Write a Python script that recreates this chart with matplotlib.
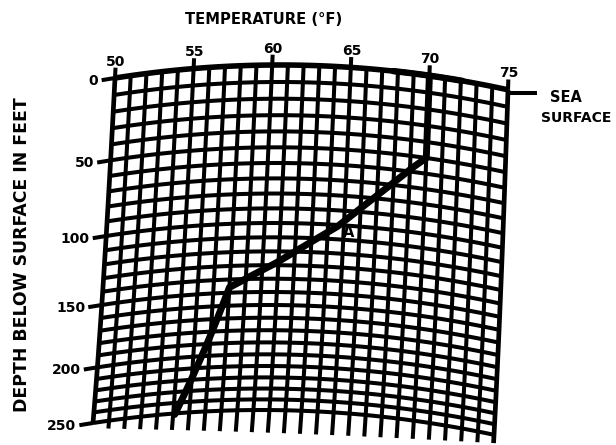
import numpy as np
import matplotlib
matplotlib.use('Agg')
import matplotlib.pyplot as plt
from matplotlib.path import Path
from matplotlib.transforms import Transform

### bathythermograph slide: temperature vs depth on a curved grid

temp_labels = [50, 55, 60, 65, 70, 75]
depth_labels = [0, 50, 100, 150, 200, 250]
grid_temps = np.arange(50, 76, 1)      # one column per degree F
grid_depths = np.arange(0, 251, 10)    # one row per 10 feet

# recorded trace (temperature F, depth ft)
trace_temp = [70.0, 70.0, 69.3, 68.2, 64.6, 60.9, 58.0, 56.9, 55.1]
trace_depth = [0, 50, 56, 66.5, 101, 128, 146, 186.6, 251]
# stylus mark along the surface line
surface_temp = [67.7, 72.1]
surface_depth = [0, 0]


class SlideTransform(Transform):
    """Maps (temperature, depth) onto the bowed slide grid, in pixels."""
    input_dims = 2
    output_dims = 2
    has_inverse = False

    def transform_non_affine(self, values):
        values = np.asarray(values, dtype=float).reshape(-1, 2)
        u = values[:, 0] - 50.0
        d = values[:, 1]
        left = 115.0 - 0.088 * d
        right = 508.0 - 0.056 * d
        x = left + u * (right - left) / 25.0
        y = 78.0 + 1.7133 * d - 0.001333 * d ** 2 + 0.118 * ((u - 10.5) ** 2 - 10.5 ** 2)
        return np.column_stack([x, y])

    def transform_path_non_affine(self, path):
        ipath = path.interpolated(40)
        return Path(self.transform_non_affine(ipath.vertices), ipath.codes)


fig = plt.figure(figsize=(6.16, 4.45), dpi=100)
ax = fig.add_axes([0, 0, 1, 1])
ax.set_axis_off()
tr = SlideTransform() + ax.transData

ink = 'black'
grid_lw = 2.9

# rows
for d in grid_depths:
    lw = 4.0 if d == 0 else grid_lw
    ax.plot([50, 75], [d, d], transform=tr, color=ink, lw=lw, solid_capstyle='butt')

# columns, with short stubs hanging below the last row
for t in grid_temps:
    u = t - 50
    stub = 0 if t == 50 else 5 + 2.705 * u - 0.1034 * u ** 2
    lw = 3.4 if t in (50, 75) else grid_lw
    ax.plot([t, t], [0, 250 + stub], transform=tr, color=ink, lw=lw,
            solid_capstyle='butt')

# temperature ticks and labels along the top
for t in temp_labels:
    ax.plot([t, t], [-6, 0], transform=tr, color=ink, lw=grid_lw, solid_capstyle='butt')
    ax.text(t, -9.5, str(t), transform=tr, ha='center', va='center',
            fontsize=10, fontweight='bold')

# depth ticks and labels along the left edge
for d in depth_labels:
    ax.plot([49.15, 50], [d, d], transform=tr, color=ink, lw=grid_lw, solid_capstyle='butt')
    ax.text(48.95, d, str(d), transform=tr, ha='right', va='center',
            fontsize=10, fontweight='bold')

# temperature trace
ax.plot(trace_temp, trace_depth, transform=tr, color=ink, lw=5,
        solid_joinstyle='round', solid_capstyle='round')
ax.plot(surface_temp, surface_depth, transform=tr, color=ink, lw=4.6,
        solid_capstyle='round')
ax.text(65.3, 104.5, 'A', transform=tr, ha='center', va='center',
        fontsize=10.5, fontweight='bold')

# sea surface pointer
x0, y0 = SlideTransform().transform_non_affine([[75, 0]])[0]
ax.plot([x0, x0 + 29], [y0 + 3, y0 + 3], color=ink, lw=grid_lw, solid_capstyle='butt')
ax.text(566, 98, 'SEA', ha='center', va='center', fontsize=10.5, fontweight='bold')
ax.text(576, 118, 'SURFACE', ha='center', va='center', fontsize=10, fontweight='bold')

ax.text(264, 20, 'TEMPERATURE (°F)', ha='center', va='center',
        fontsize=10.6, fontweight='bold')
ax.text(22, 255, 'DEPTH BELOW SURFACE IN FEET', ha='center', va='center',
        rotation=90, fontsize=12.4, fontweight='bold')

ax.set_xlim(0, 616)
ax.set_ylim(445, 0)

plt.savefig('out.png', dpi=100)
